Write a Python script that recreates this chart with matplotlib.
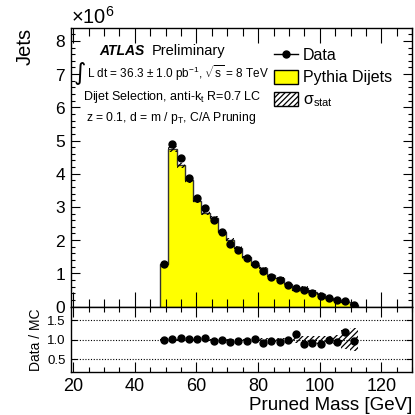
import numpy as np
import matplotlib
matplotlib.use("Agg")
import matplotlib.pyplot as plt
from matplotlib.lines import Line2D
from matplotlib.patches import Patch
from matplotlib.ticker import MultipleLocator, ScalarFormatter, FixedLocator, NullLocator

plt.rcParams['font.family'] = ['Liberation Sans', 'DejaVu Sans']
plt.rcParams['mathtext.fontset'] = 'custom'
plt.rcParams['mathtext.rm'] = 'Liberation Sans'
plt.rcParams['mathtext.it'] = 'Liberation Sans:italic'
plt.rcParams['mathtext.bf'] = 'Liberation Sans:bold'
plt.rcParams['hatch.linewidth'] = 0.9

# ---- data ----
bin_edges = np.linspace(48.2, 112.3, 25)   # pruned-mass bins [GeV]
data_jets = [1.28e6, 4.89e6, 4.46e6, 3.88e6, 3.26e6, 2.96e6, 2.61e6, 2.23e6,
             1.88e6, 1.70e6, 1.45e6, 1.27e6, 1.07e6, 0.90e6, 0.80e6, 0.66e6,
             0.57e6, 0.50e6, 0.40e6, 0.33e6, 0.27e6, 0.20e6, 0.17e6, 0.05e6]
mc_jets = [1.28e6, 4.75e6, 4.25e6, 3.80e6, 3.17e6, 2.82e6, 2.66e6, 2.25e6,
           2.00e6, 1.77e6, 1.48e6, 1.26e6, 1.16e6, 0.94e6, 0.86e6, 0.67e6,
           0.50e6, 0.56e6, 0.44e6, 0.37e6, 0.27e6, 0.21e6, 0.14e6, 0.052e6]
mc_stat_rel = [0.02, 0.02, 0.02, 0.02, 0.02, 0.02, 0.02, 0.025,
               0.025, 0.025, 0.03, 0.03, 0.035, 0.04, 0.045, 0.05,
               0.08, 0.09, 0.10, 0.11, 0.11, 0.12, 0.25, 0.30]
ratio_ticks = [0.5, 1.0, 1.5]
ratio_ticklabels = ["0.5", "1.0", "1.5"]

data = np.array(data_jets)
mc = np.array(mc_jets)
rel = np.array(mc_stat_rel)
centers = 0.5 * (bin_edges[:-1] + bin_edges[1:])
widths = np.diff(bin_edges)
ratio = data / mc

fig = plt.figure(figsize=(4.15, 4.15), dpi=100)
ax = fig.add_axes([0.1704, 0.2614, 0.8231, 0.6704])
rx = fig.add_axes([0.1704, 0.1029, 0.8231, 0.1585], sharex=ax)

# main panel
ax.stairs(mc, bin_edges, fill=True, facecolor='#ffff00', edgecolor='none', zorder=1)
ax.stairs(mc, bin_edges, baseline=0, color='#333333', lw=1.0, zorder=2)
ax.bar(centers, 2 * rel * mc, bottom=mc * (1 - rel), width=widths, fill=False,
       hatch='//////', edgecolor='black', linewidth=0, zorder=3)
ax.plot(centers, data, 'o', color='black', markersize=5, zorder=4)

ax.set_xlim(19.2, 130)
ax.set_ylim(0, 8.38e6)
ax.xaxis.set_major_locator(MultipleLocator(20))
ax.xaxis.set_minor_locator(MultipleLocator(5))
ax.yaxis.set_major_locator(MultipleLocator(1e6))
ax.yaxis.set_minor_locator(MultipleLocator(0.2e6))
fmt = ScalarFormatter(useMathText=True)
fmt.set_powerlimits((6, 6))
ax.yaxis.set_major_formatter(fmt)
ax.yaxis.get_offset_text().set_fontsize(14.5)
ax.tick_params(axis='both', which='both', direction='in', top=True, right=True,
               labelbottom=False, labelsize=12.5, width=0.8)
ax.tick_params(axis='x', which='major', length=11)
ax.tick_params(axis='x', which='minor', length=6)
ax.tick_params(axis='y', which='major', length=6.5)
ax.tick_params(axis='y', which='minor', length=3.2)
for s in ax.spines.values():
    s.set_linewidth(1.0)
ax.set_ylabel('Jets', loc='top', fontsize=14.5)
ax.yaxis.set_label_coords(-0.105, 1.0)

# annotations
ax.text(0.083, 0.904, 'ATLAS', transform=ax.transAxes, fontsize=10,
        fontweight='bold', fontstyle='italic', va='baseline')
ax.text(0.237, 0.904, 'Preliminary', transform=ax.transAxes, fontsize=10.5,
        va='baseline')
ax.text(0.008, 0.815, '\u222b', transform=ax.transAxes, fontsize=17,
        va='baseline', family=['DejaVu Sans'])
ax.text(0.0477, 0.821, r'L dt = 36.3 $\pm$ 1.0 pb$^{-1}$, $\sqrt{\mathrm{s}}$ = 8 TeV',
        transform=ax.transAxes, fontsize=8.5, va='baseline')
ax.text(0.036, 0.742, r'Dijet Selection, anti-k$_{\mathrm{t}}$ R=0.7 LC',
        transform=ax.transAxes, fontsize=9, va='baseline')
ax.text(0.0448, 0.668, r'z = 0.1, d = m / p$_{\mathrm{T}}$, C/A Pruning',
        transform=ax.transAxes, fontsize=8.75, va='baseline')

handles = [Line2D([], [], color='black', marker='o', markersize=5, lw=1),
           Patch(facecolor='#ffff00', edgecolor='black', lw=1),
           Patch(facecolor='white', edgecolor='black', hatch='//////', lw=1)]
labels = ['Data', 'Pythia Dijets', '\u03c3$_{\\mathrm{stat}}$']
ax.legend(handles, labels, loc='upper left', bbox_to_anchor=(0.595, 0.93),
          frameon=False, fontsize=11.5, handlelength=1.5, handleheight=1.0,
          handletextpad=0.3, labelspacing=0.4, borderpad=0, borderaxespad=0)

# ratio panel
rx.bar(centers, 2 * rel, bottom=1 - rel, width=widths, fill=False,
       hatch='//////', edgecolor='black', linewidth=0, zorder=2)
for t in ratio_ticks:
    rx.axhline(t, color='black', lw=0.8, linestyle=(0, (1, 1.5)), zorder=1)
rx.plot(centers, ratio, 'o', color='black', markersize=5, zorder=3)
rx.set_ylim(0.16, 1.86)
rx.yaxis.set_major_locator(FixedLocator(ratio_ticks))
rx.set_yticklabels(ratio_ticklabels)
rx.yaxis.set_minor_locator(NullLocator())
rx.tick_params(axis='both', which='both', direction='in', top=True, right=True, width=0.8)
rx.tick_params(axis='x', which='major', length=7, labelsize=13, pad=4)
rx.tick_params(axis='x', which='minor', length=3.5)
rx.tick_params(axis='y', which='major', length=4, labelsize=9.5)
for s in rx.spines.values():
    s.set_linewidth(1.0)
rx.set_ylabel('Data / MC', fontsize=10)
rx.yaxis.set_label_coords(-0.081, 0.5)
rx.set_xlabel('Pruned Mass [GeV]', loc='right', fontsize=13.5)
rx.xaxis.set_label_coords(1.0, -0.37)

fig.savefig('out.png', dpi=100)
